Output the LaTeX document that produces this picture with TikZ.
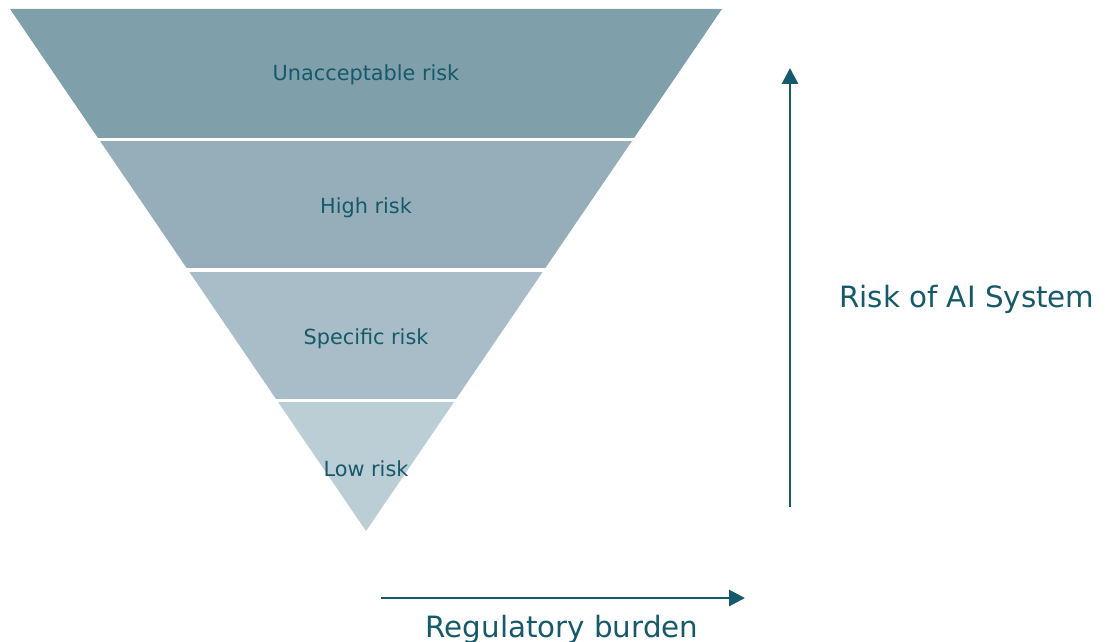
\documentclass[tikz,border=0pt]{standalone}
\usepackage{fontspec}
\setmainfont{DejaVu Sans}
\usetikzlibrary{calc,arrows.meta}
\definecolor{bandA}{HTML}{7F9FAA}
\definecolor{bandB}{HTML}{96AEB9}
\definecolor{bandC}{HTML}{A9BDC8}
\definecolor{bandD}{HTML}{BBCDD5}
\definecolor{teal}{HTML}{15596B}
\tikzset{
  tierlabel/.style={text=teal, font=\fontsize{15.6pt}{18pt}\selectfont, inner sep=0pt, anchor=base},
  axislabel/.style={text=teal, font=\fontsize{22pt}{26pt}\selectfont, inner sep=0pt, anchor=base},
  axisarrow/.style={draw=teal, line width=2.2pt, -{Triangle[length=12pt,width=12pt]}},
  separator/.style={draw=white, line width=2.4pt}
}
\begin{document}
\begin{tikzpicture}[x=0.75pt, y=-0.75pt]
  \useasboundingbox (0,0) rectangle (1107,642);
  % outline of the inverted pyramid
  \coordinate (tl) at (10,9);
  \coordinate (tr) at (722,9);
  \coordinate (ap) at (366,531);
  \foreach \f/\n in {0.25/1,0.5/2,0.75/3}{
    \coordinate (l\n) at ($(tl)!\f!(ap)$);
    \coordinate (r\n) at ($(tr)!\f!(ap)$);
  }
  % tiers
  \fill[bandA] (tl) -- (tr) -- (r1) -- (l1) -- cycle;
  \fill[bandB] (l1) -- (r1) -- (r2) -- (l2) -- cycle;
  \fill[bandC] (l2) -- (r2) -- (r3) -- (l3) -- cycle;
  \fill[bandD] (l3) -- (r3) -- (ap) -- cycle;
  % white gaps between tiers
  \foreach \n in {1,2,3}{
    \draw[separator] ($(l\n)+(-4,0)$) -- ($(r\n)+(4,0)$);
  }
  % tier labels
  \node[tierlabel] (unacc) at (366,81) {Unacceptable risk};
  \node[tierlabel] (high) at (366,213) {High risk};
  \node[tierlabel] (spec) at (366,344) {Specific risk};
  \node[tierlabel] (low) at (366,476) {Low risk};
  % risk axis
  \coordinate (rb) at (790,507);
  \coordinate (rt) at (790,68);
  \draw[axisarrow] (rb) -- (rt);
  \node[axislabel, anchor=base west] (risk) at (839,307) {Risk of AI System};
  % regulatory axis
  \coordinate (gl) at (381,598);
  \coordinate (gr) at (745,598);
  \draw[axisarrow] (gl) -- (gr);
  \node[axislabel] (reg) at (562,637) {Regulatory burden};
\end{tikzpicture}
\end{document}
